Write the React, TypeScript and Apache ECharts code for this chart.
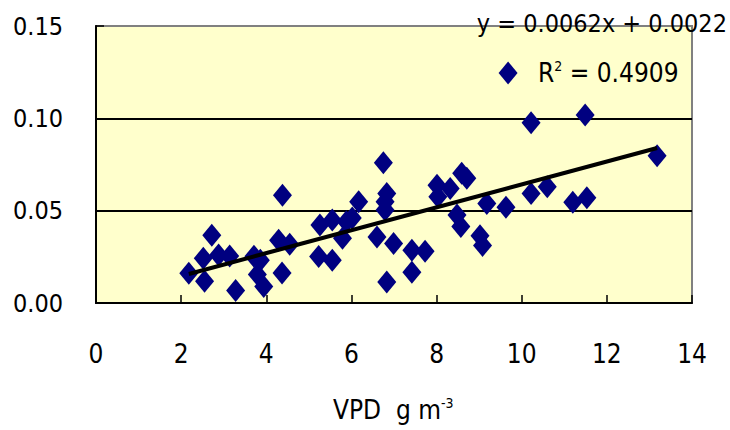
import React, { useEffect, useRef } from "react";
import * as echarts from "echarts";

const vpd = [
  2.18, 2.55, 2.52, 2.72, 2.88, 3.14, 3.28, 3.71, 3.86, 3.79, 3.94, 4.38, 4.29,
  4.37, 4.55, 5.26, 5.23, 5.55, 5.55, 5.79, 5.88, 6.02, 6.17, 6.75, 6.83, 6.79,
  6.79, 6.6, 6.99, 6.83, 7.42, 7.73, 7.42, 8.01, 8.03, 8.32, 8.59, 8.71, 8.48,
  8.57, 9.02, 9.08, 9.18, 9.63, 10.22, 11.49, 13.18, 10.22, 10.6, 11.2, 11.53,
  9.68,
];
const conductance = [
  0.0161, 0.0118, 0.0242, 0.0367, 0.026, 0.0255, 0.0068, 0.0253, 0.0232, 0.0155,
  0.009, 0.0584, 0.034, 0.0163, 0.0318, 0.0422, 0.0252, 0.0449, 0.0232, 0.0351,
  0.044, 0.046, 0.0548, 0.0759, 0.0593, 0.0548, 0.0503, 0.0358, 0.0322, 0.0114,
  0.0286, 0.028, 0.0166, 0.0638, 0.0575, 0.062, 0.0702, 0.0675, 0.0476, 0.0414,
  0.0364, 0.0312, 0.0539, 0.0519, 0.0976, 0.1018, 0.0798, 0.0593, 0.0629, 0.0545,
  0.057, 0.1246,
];
const slope = 0.0062;
const intercept = 0.0022;
const equationText = "y = 0.0062x + 0.0022";
const r2Value = "0.4909";
const xTicks = [0, 2, 4, 6, 8, 10, 12, 14];
const yTicks = [0, 0.05, 0.1, 0.15];

const FONT = "'DejaVu Sans Condensed', 'Liberation Sans', sans-serif";

export default function App() {
  const ref = useRef<HTMLDivElement>(null);
  useEffect(() => {
    document.body.style.margin = "0";
    if (!ref.current) return;
    const chart = echarts.init(ref.current, undefined, { renderer: "svg" });
    const points = vpd.map((x, i) => [x, conductance[i]]);
    const xMin = Math.min(...vpd);
    const xMax = Math.max(...vpd);
    const trend = [
      [xMin, slope * xMin + intercept],
      [xMax, slope * xMax + intercept],
    ];
    chart.setOption({
      animation: false,
      backgroundColor: "#ffffff",
      grid: {
        left: 96,
        right: 38,
        top: 26,
        bottom: 127,
        show: true,
        backgroundColor: "#FFFFCC",
        borderColor: "#808080",
        borderWidth: 2,
      },
      xAxis: {
        type: "value",
        min: xTicks[0],
        max: xTicks[xTicks.length - 1],
        interval: 2,
        axisLine: { show: true, onZero: false, lineStyle: { color: "#000", width: 2 } },
        axisTick: { show: true, inside: true, length: 8, lineStyle: { color: "#000", width: 1.5 } },
        splitLine: { show: false },
        axisLabel: { fontFamily: FONT, fontSize: 26, color: "#000", margin: 38 },
      },
      yAxis: {
        type: "value",
        min: yTicks[0],
        max: yTicks[yTicks.length - 1],
        interval: 0.05,
        axisLine: { show: true, onZero: false, lineStyle: { color: "#000", width: 2 } },
        axisTick: { show: true, inside: true, length: 8, lineStyle: { color: "#000", width: 1.5 } },
        splitLine: { show: true, showMinLine: false, showMaxLine: false, lineStyle: { color: "#000", width: 2 } },
        axisLabel: {
          fontFamily: FONT,
          fontSize: 25,
          color: "#000",
          margin: 33,
          formatter: (v: number) => v.toFixed(2),
        },
      },
      series: [
        {
          type: "scatter",
          data: points,
          symbol: "diamond",
          symbolSize: [19, 23],
          itemStyle: { color: "#000080", opacity: 1 },
          z: 2,
        },
        {
          type: "line",
          data: trend,
          symbol: "none",
          lineStyle: { color: "#000", width: 4 },
          z: 3,
        },
      ],
      graphic: [
        {
          type: "text",
          x: 727,
          y: 23,
          z: 10,
          style: {
            text: equationText,
            fontFamily: FONT,
            fontSize: 25,
            fill: "#000",
            align: "right",
            verticalAlign: "middle",
          },
        },
        {
          type: "text",
          x: 538,
          y: 73,
          z: 10,
          style: {
            text: "R{sup|2} = " + r2Value,
            fontFamily: FONT,
            fontSize: 26,
            fill: "#000",
            align: "left",
            verticalAlign: "middle",
            rich: {
              sup: { fontFamily: FONT, fontSize: 14, fill: "#000", padding: [0, 0, 14, 0] },
            },
          },
        },
        {
          type: "text",
          x: 333,
          y: 410,
          z: 10,
          style: {
            text: "VPD  g m{sup|-3}",
            fontFamily: FONT,
            fontSize: 26,
            fill: "#000",
            align: "left",
            verticalAlign: "middle",
            rich: {
              sup: { fontFamily: FONT, fontSize: 14, fill: "#000", padding: [0, 0, 14, 0] },
            },
          },
        },
      ],
    });
    return () => chart.dispose();
  }, []);
  return <div ref={ref} style={{ width: 730, height: 430 }} />;
}
